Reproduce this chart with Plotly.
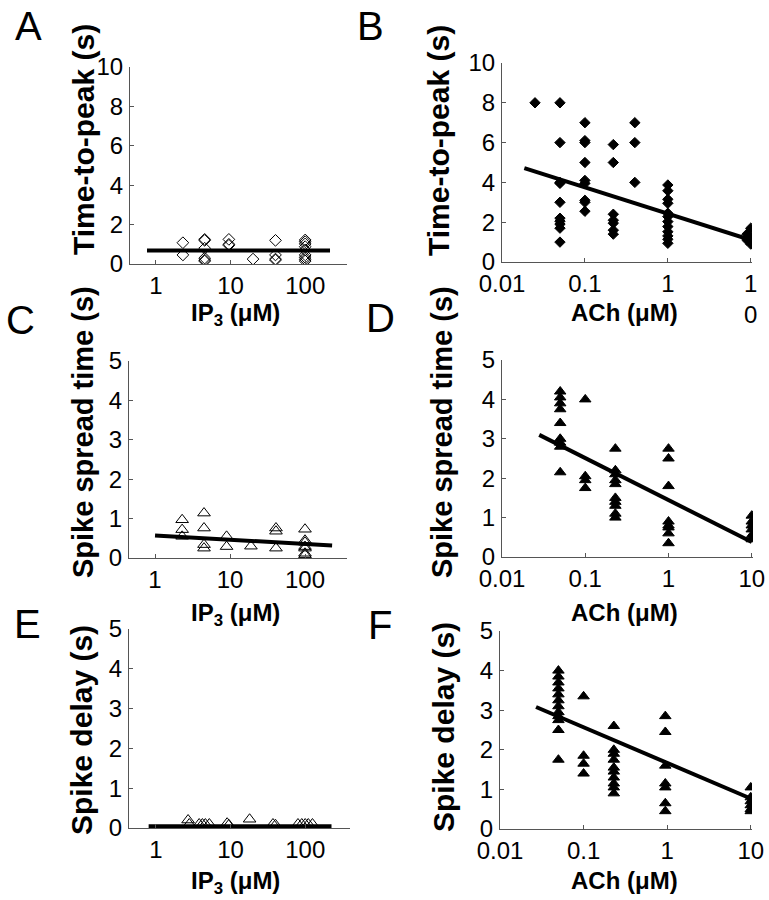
import plotly.graph_objects as go

# ---------------- data ----------------
# Panel A: IP3 vs time-to-peak (open diamonds)
a_x = [2.3, 2.3, 4.5, 4.5, 4.5, 4.5, 4.5, 4.5, 9.5, 9.5, 9.5, 20,
       40, 40, 40, 40, 100, 100, 100, 100, 100, 100, 100, 100, 100]
a_y = [1.08, 0.46, 1.25, 1.2, 0.8, 0.3, 0.2, 0.15, 1.25, 1.0, 0.95, 0.25,
       1.2, 0.46, 0.25, 0.2, 1.22, 1.13, 1.02, 0.88, 0.71, 0.46, 0.34, 0.24, 0.15]
a_fit_x = [0.76, 215]
a_fit_y = [0.68, 0.68]

# Panel B: ACh vs time-to-peak (filled diamonds)
b_x = [0.025,
       0.05, 0.05, 0.05, 0.05, 0.05, 0.05, 0.05, 0.05, 0.05, 0.05,
       0.1, 0.1, 0.1, 0.1, 0.1, 0.1, 0.1, 0.1, 0.1,
       0.22, 0.22, 0.22, 0.22, 0.22, 0.22, 0.22,
       0.4, 0.4, 0.4,
       1, 1, 1, 1, 1, 1, 1, 1, 1, 1, 1, 1,
       10, 9, 11, 10, 9, 11, 10, 10.5]
b_y = [8.0,
       8.0, 6.0, 4.0, 3.95, 3.0, 2.2, 2.05, 1.9, 1.7, 1.0,
       7.0, 6.1, 6.0, 5.0, 4.1, 3.95, 3.1, 3.0, 2.55,
       5.9, 5.0, 2.4, 2.1, 1.95, 1.6, 1.4,
       7.0, 6.0, 4.0,
       3.87, 3.58, 3.15, 2.95, 2.45, 2.28, 2.03, 1.78, 1.52, 1.31, 1.14, 0.94,
       1.7, 1.4, 1.3, 1.2, 1.1, 1.0, 0.9, 1.0]
b_fit_x = [0.0186, 10.5]
b_fit_y = [4.72, 1.08]

# Panel C: IP3 vs spike spread time (open triangles)
c_x = [2.3, 2.3, 2.3, 4.5, 4.5, 4.5, 4.5, 9, 9, 19, 41, 41, 41,
       100, 100, 100, 100, 100, 100, 100]
c_y = [0.97, 0.72, 0.55, 1.14, 0.76, 0.34, 0.25, 0.55, 0.29, 0.3, 0.76, 0.68, 0.25,
       0.73, 0.45, 0.4, 0.29, 0.25, 0.12, 0.08]
c_fit_x = [1.0, 230]
c_fit_y = [0.57, 0.32]

# Panel D: ACh vs spike spread time (filled triangles)
d_x = [0.05] * 9 + [0.1] * 4 + [0.23] * 10 + [1.0] * 8 + [10.0] * 6
d_y = [4.2, 4.05, 3.9, 3.75, 3.4, 3.0, 2.9, 2.8, 2.15,
       4.0, 2.05, 1.95, 1.75,
       2.75, 2.2, 2.1, 1.95, 1.85, 1.5, 1.4, 1.3, 1.1, 1.0,
       2.75, 2.5, 1.8, 0.9, 0.8, 0.75, 0.6, 0.35,
       1.05, 0.9, 0.8, 0.7, 0.55, 0.45]
d_fit_x = [0.028, 10]
d_fit_y = [3.1, 0.38]

# Panel E: IP3 vs spike delay (open triangles)
e_x = [2.7, 2.8, 3.8, 4.2, 4.6, 5.2, 9.0, 9.5, 18, 37, 40, 80, 90, 100, 110, 125]
e_y = [0.2, 0.1, 0.1, 0.1, 0.1, 0.1, 0.12, 0.08, 0.22, 0.1, 0.08, 0.1, 0.1, 0.1, 0.1, 0.1]
e_fit_x = [0.8, 225]
e_fit_y = [0.03, 0.03]

# Panel F: ACh vs spike delay (filled triangles)
f_x = [0.05] * 12 + [0.1] * 4 + [0.23] * 10 + [0.95] * 7 + [10.0] * 6
f_y = [4.0, 3.85, 3.7, 3.55, 3.4, 3.25, 3.1, 2.95, 2.85, 2.75, 2.5, 1.75,
       3.35, 1.85, 1.65, 1.4,
       2.6, 2.0, 1.9, 1.75, 1.55, 1.45, 1.3, 1.15, 1.05, 0.9,
       2.85, 2.45, 1.6, 1.15, 1.05, 0.65, 0.45,
       1.05, 0.8, 0.7, 0.6, 0.5, 0.45]
f_fit_x = [0.027, 9.5]
f_fit_y = [3.08, 0.79]

ip3_ticks = [1, 10, 100]
ip3_ticktext = ["1", "10", "100"]
ach_ticks = [0.01, 0.1, 1, 10]
ach_ticktext = ["0.01", "0.1", "1", "10"]
ach_ticktext_b = ["0.01", "0.1", "1", "1<br>0"]
ttp_ticks = [0, 2, 4, 6, 8, 10]
spk_ticks = [0, 1, 2, 3, 4, 5]

# ---------------- layout helpers ----------------
W, H = 769, 900
FONT = "Liberation Sans, Arial, sans-serif"


def xd(l, r):
    return [l / W, r / W]


def yd(bottom, top):
    return [1 - bottom / H, 1 - top / H]


fig = go.Figure()

panels = [
    (a_x, a_y, a_fit_x, a_fit_y, "diamond-open", 9, 1, 4),
    (b_x, b_y, b_fit_x, b_fit_y, "diamond", 8, 2, 4),
    (c_x, c_y, c_fit_x, c_fit_y, "triangle-up-open", 11, 3, 4),
    (d_x, d_y, d_fit_x, d_fit_y, "triangle-up", 10, 4, 4),
    (e_x, e_y, e_fit_x, e_fit_y, "triangle-up-open", 11, 5, 5),
    (f_x, f_y, f_fit_x, f_fit_y, "triangle-up", 10, 6, 4),
]

for px, py, fx, fy, sym, sz, k, lw in panels:
    xa = "x" if k == 1 else f"x{k}"
    ya = "y" if k == 1 else f"y{k}"
    fig.add_trace(go.Scatter(
        x=px, y=py, mode="markers", xaxis=xa, yaxis=ya,
        marker=dict(symbol=sym, size=sz, color="black",
                    line=dict(color="black", width=1)),
        showlegend=False, hoverinfo="skip"))
    fig.add_trace(go.Scatter(
        x=fx, y=fy, mode="lines", xaxis=xa, yaxis=ya,
        line=dict(color="black", width=lw),
        showlegend=False, hoverinfo="skip"))

axis_common = dict(
    showgrid=False, zeroline=False, showline=True, automargin=False,
    linecolor="#555555", linewidth=1,
    ticks="inside", ticklen=4, tickcolor="#555555", tickwidth=1,
    tickfont=dict(family=FONT, size=24, color="black"),
)

ip3_range = [-0.347, 2.56]
ach_range = [-2.0, 1.015]

layout_axes = {}
specs = [
    # k, x-left, x-right, ybottom(px at 0), ytop(px at max), ymax, type
    (1, 130, 347, 264, 67, 10, "ip3"),
    (2, 502, 752, 262, 63, 10, "achB"),
    (3, 129, 347, 558, 361, 5, "ip3"),
    (4, 502, 753, 557, 360, 5, "ach"),
    (5, 129, 350, 828, 629, 5, "ip3"),
    (6, 500, 752, 829, 631, 5, "ach"),
]
for k, xl, xr, yb, yt, ymax, kind in specs:
    sx = "" if k == 1 else str(k)
    if kind == "ip3":
        tv, tt = ip3_ticks, ip3_ticktext
        rng = ip3_range if k != 5 else [-0.36, 2.6]
    elif kind == "achB":
        tv, tt, rng = ach_ticks, ach_ticktext_b, ach_range
    else:
        tv, tt, rng = ach_ticks, ach_ticktext, ach_range
    layout_axes[f"xaxis{sx}"] = dict(
        axis_common, type="log", range=rng, domain=xd(xl, xr),
        anchor=f"y{sx}", tickvals=tv, ticktext=tt, ticklabelstandoff=0)
    layout_axes[f"yaxis{sx}"] = dict(
        axis_common, range=[0, ymax], domain=yd(yb, yt),
        anchor=f"x{sx}",
        tickvals=ttp_ticks if ymax == 10 else spk_ticks,
        ticklabelstandoff=1)

fig.update_layout(**layout_axes)

# ---------------- annotations (titles, panel letters) ----------------
ann = []


def text(x, y, s, size, bold=True, angle=0):
    ann.append(dict(
        x=x / W, y=1 - y / H, xref="paper", yref="paper",
        text=f"<b>{s}</b>" if bold else s, showarrow=False,
        textangle=angle, xanchor="center", yanchor="middle",
        font=dict(family=FONT, size=size, color="black")))


ip3_label = "IP<sub>3</sub> (μM)"
ach_label = "ACh (μM)"

# x titles
text(235, 314, ip3_label, 24)
text(624, 312, ach_label, 24)
text(235, 614, ip3_label, 24)
text(624, 612, ach_label, 24)
text(235, 882, ip3_label, 24)
text(624, 880, ach_label, 24)

# y titles
text(83, 140, "Time-to-peak (s)", 30, angle=-90)
text(438, 141, "Time-to-peak (s)", 30, angle=-90)
text(83, 432, "Spike spread time (s)", 29, angle=-90)
text(442, 432, "Spike spread time (s)", 29, angle=-90)
text(81, 730, "Spike delay (s)", 30, angle=-90)
text(443, 727, "Spike delay (s)", 30, angle=-90)

# panel letters
for letter, lx, ly in [("A", 28, 26), ("B", 370, 26), ("C", 20, 320),
                       ("D", 380, 318), ("E", 27, 624), ("F", 380, 625)]:
    text(lx, ly, letter, 40, bold=False)

fig.update_layout(
    annotations=ann,
    width=W, height=H,
    margin=dict(l=0, r=0, t=0, b=0, autoexpand=False),
    paper_bgcolor="white", plot_bgcolor="white",
    showlegend=False,
    font=dict(family=FONT, color="black"),
)

fig.write_html(
    "out.html", include_plotlyjs=True,
    config={"displayModeBar": False, "staticPlot": True},
    post_script="document.body.style.margin='0px';"
                "document.body.style.overflow='hidden';")
